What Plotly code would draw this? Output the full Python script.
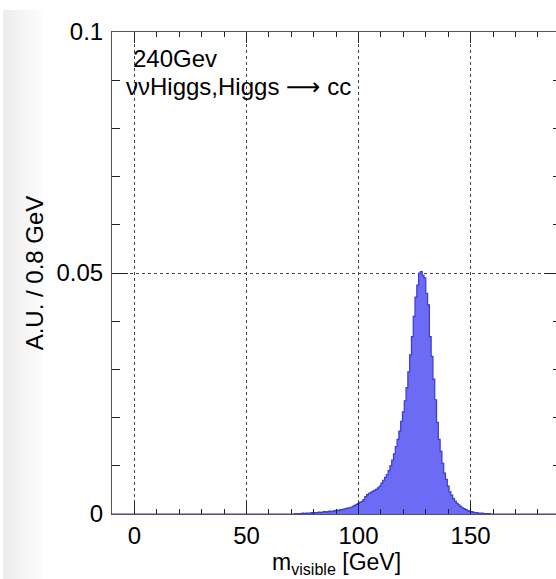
import plotly.graph_objects as go

# ---- data ----
bin_width = 0.8            # GeV
x_min, x_max = -10.0, 190.0
bin_start = 70.0           # left edge of the first listed bin
counts = [
    0.0000, 0.0000, 0.0001, 0.0000, 0.0001, 0.0001, 0.0002, 0.0001, 0.0002, 0.0002,
    0.0002, 0.0003, 0.0002, 0.0003, 0.0003, 0.0004, 0.0003, 0.0004, 0.0005, 0.0004,
    0.0005, 0.0006, 0.0005, 0.0006, 0.0007, 0.0008, 0.0007, 0.0009, 0.0009, 0.0010,
    0.0011, 0.0012, 0.0013, 0.0014, 0.0016, 0.0018, 0.0020, 0.0022, 0.0024, 0.0026,
    0.0030, 0.0036, 0.0040, 0.0043, 0.0045, 0.0047, 0.0049, 0.0051, 0.0054, 0.0058,
    0.0064, 0.0070, 0.0076, 0.0082, 0.0090, 0.0100, 0.0112, 0.0125, 0.0140, 0.0155,
    0.0172, 0.0192, 0.0212, 0.0235, 0.0262, 0.0295, 0.0330, 0.0368, 0.0410, 0.0450,
    0.0475, 0.0500, 0.0503, 0.0495, 0.0490, 0.0458, 0.0434, 0.0368, 0.0327, 0.0280,
    0.0237, 0.0190, 0.0155, 0.0130, 0.0105, 0.0085, 0.0072, 0.0058, 0.0046, 0.0039,
    0.0032, 0.0027, 0.0022, 0.0019, 0.0016, 0.0013, 0.0011, 0.0009, 0.0007, 0.0006,
    0.0005, 0.0004, 0.0003, 0.0003, 0.0002, 0.0002, 0.0002, 0.0001, 0.0001, 0.0001,
    0.0001, 0.0000,
]
x_ticks = [0, 50, 100, 150]
y_ticks = [0, 0.05, 0.1]
y_tick_text = ["0", "0.05", "0.1"]
x_title = "m<sub>visible</sub> [GeV]"
y_title = "A.U. / 0.8 GeV"
label_energy = "240Gev"
label_process = ("\u03bd\u03bdHiggs,Higgs\u00a0"
                 "<span style='font-family:DejaVu Sans;font-size:24px'>\u27f6</span>\u00a0cc")

# ---- build step outline ----
xs = [x_min, bin_start]
ys = [0.0, 0.0]
for i, c in enumerate(counts):
    xs.append(bin_start + bin_width * i)
    ys.append(c)
end_edge = bin_start + bin_width * len(counts)
xs += [end_edge, x_max]
ys += [0.0, 0.0]

FONT = "Liberation Sans, Arial, Helvetica, sans-serif"
FS = 24

fig = go.Figure()
fig.add_trace(go.Scatter(
    x=xs, y=ys, mode="lines", line_shape="hv",
    line=dict(color="#3a3ad2", width=1.2),
    fill="tozeroy", fillcolor="#6b6bf6",
    hoverinfo="skip", showlegend=False,
))
# invisible trace to carry the right-hand mirrored y ticks
fig.add_trace(go.Scatter(x=[x_min], y=[0], yaxis="y2", mode="markers",
                         marker=dict(opacity=0), hoverinfo="skip", showlegend=False))

# light grey strip at the far left (screenshot background)
greys = ["#ececec", "#efefef", "#f1f1f1", "#f4f4f4", "#f6f6f6", "#f8f8f8", "#fafafa", "#fcfcfc"]
pl, pw = 112.0, 444.0
pt, ph = 32.0, 482.0
for i, g in enumerate(greys):
    x0p = 3 + 5 * i
    fig.add_shape(type="rect", xref="paper", yref="paper",
                  x0=(x0p - pl) / pw, x1=(x0p + 5 - pl) / pw,
                  y0=(pt + ph - 579) / ph, y1=(pt + ph - 10) / ph,
                  line=dict(width=0), fillcolor=g, layer="below")

fig.add_annotation(text=label_energy, xref="paper", yref="paper",
                   x=(131 - pl) / pw, y=(pt + ph - 58) / ph,
                   xanchor="left", yanchor="middle", showarrow=False,
                   font=dict(family=FONT, size=FS, color="black"))
fig.add_annotation(text=label_process, xref="paper", yref="paper",
                   x=(124 - pl) / pw, y=(pt + ph - 87) / ph,
                   xanchor="left", yanchor="middle", showarrow=False,
                   font=dict(family=FONT, size=FS, color="black"))
# x-axis title placed explicitly
fig.add_annotation(text=x_title, xref="paper", yref="paper",
                   x=(336 - pl) / pw, y=(pt + ph - 563) / ph,
                   xanchor="center", yanchor="middle", showarrow=False,
                   font=dict(family=FONT, size=23, color="black"))

fig.update_layout(
    width=556, height=579,
    margin=dict(l=112, r=0, t=32, b=65),
    paper_bgcolor="white", plot_bgcolor="white",
    font=dict(family=FONT, size=FS, color="black"),
    xaxis=dict(
        range=[x_min, 188.1], tickvals=x_ticks, ticks="inside", ticklen=11,
        tickcolor="#222", tickwidth=1, ticklabelstandoff=0,
        minor=dict(dtick=10, tick0=0, ticks="inside", ticklen=5, tickcolor="#222", showgrid=False),
        showgrid=True, gridcolor="#444", griddash="dot", gridwidth=1,
        showline=True, linecolor="#555", linewidth=1, mirror="ticks",
        zeroline=False, tickfont=dict(size=FS),
    ),
    yaxis=dict(
        range=[0, 0.1], tickvals=y_ticks, ticktext=y_tick_text,
        ticks="inside", ticklen=16, tickcolor="#222", ticklabelstandoff=3,
        minor=dict(dtick=0.01, tick0=0, ticks="inside", ticklen=8, tickcolor="#222", showgrid=False),
        showgrid=True, gridcolor="#444", griddash="dot", gridwidth=1,
        showline=True, linecolor="#555", linewidth=1,
        zeroline=False, tickfont=dict(size=FS),
        title=dict(text=y_title, font=dict(size=FS), standoff=6),
    ),
    yaxis2=dict(
        overlaying="y", side="right", range=[0, 0.1], tickvals=y_ticks,
        showticklabels=False, ticks="inside", ticklen=11, tickcolor="#222",
        minor=dict(dtick=0.01, tick0=0, ticks="inside", ticklen=3, tickcolor="#222", showgrid=False),
        showgrid=False, showline=False, zeroline=False,
    ),
)

fig.write_html("out.html", config={"displayModeBar": False},
               post_script="document.body.style.margin='0';document.body.style.overflow='hidden';")
